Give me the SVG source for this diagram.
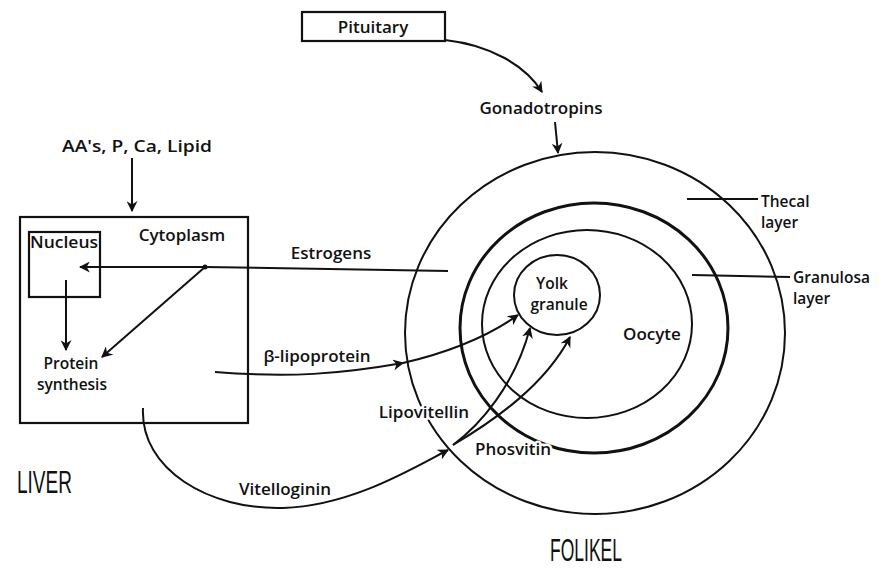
<svg xmlns="http://www.w3.org/2000/svg" width="881" height="569" viewBox="0 0 881 569">
<style>
  text { font-family: "Open Sans", "DejaVu Sans", sans-serif; font-weight: 600; font-size: 17px; fill: #111; }
  .two { font-size: 15.5px; }
  .halo { paint-order: stroke; stroke: #fff; stroke-width: 5px; stroke-linejoin: round; }
  .big { font-family: "Liberation Sans", sans-serif; font-weight: 400; font-size: 32px; }
  .box { fill: none; stroke: #111; stroke-width: 2.2; }
  .ring { fill: none; stroke: #111; stroke-width: 2; }
  .thick { stroke-width: 3; }
  .con { fill: none; stroke: #111; stroke-width: 2; }
</style>
<defs>
  <marker id="arr" viewBox="0 0 10 10" refX="9" refY="5" markerWidth="11" markerHeight="11" markerUnits="userSpaceOnUse" orient="auto">
    <path d="M0,0 L10,5 L0,10 L3,5 z" fill="#111"/>
  </marker>
</defs>
<rect width="881" height="569" fill="#fff"/>

<g id="follicle">
  <ellipse class="ring" cx="595" cy="333" rx="190" ry="181"/>
  <ellipse class="ring thick" cx="594" cy="328" rx="134" ry="125"/>
  <ellipse class="ring" cx="587" cy="324" rx="105" ry="94"/>
</g>

<g id="pituitary">
  <rect class="box" x="302" y="12" width="143" height="29"/>
  <text x="373" y="33" text-anchor="middle">Pituitary</text>
</g>

<g id="liver">
  <rect class="box" x="20" y="217" width="228" height="206"/>
  <text x="182" y="241" text-anchor="middle">Cytoplasm</text>
</g>
<g id="nucleus">
  <rect class="box" x="29" y="232" width="71" height="65"/>
  <text x="64" y="248" text-anchor="middle" font-size="15" textLength="68" lengthAdjust="spacingAndGlyphs">Nucleus</text>
</g>
<g id="protein-synthesis">
  <text class="two" x="71" y="369" text-anchor="middle">Protein</text>
  <text class="two" x="72" y="390" text-anchor="middle">synthesis</text>
</g>

<g id="connectors">
  <path class="con" d="M445,40 C490,45 525,65 542,92" marker-end="url(#arr)"/>
  <path class="con" d="M555,122 L558,153" marker-end="url(#arr)"/>
  <path class="con" d="M132,158 L132,211" marker-end="url(#arr)"/>
  <path class="con" d="M448,271 L205,267 L80,267" marker-end="url(#arr)"/>
  <circle cx="205" cy="267" r="2.5" fill="#111"/>
  <path class="con" d="M205,267 L102,357" marker-end="url(#arr)"/>
  <path class="con" d="M66,280 L66,350" marker-end="url(#arr)"/>
  <path class="con" d="M215,372 C290,378 340,374 403,363 C450,352 490,335 518,315" marker-mid="url(#arr)" marker-end="url(#arr)"/>
  <path class="con" d="M143,408 C140,470 210,510 283,508 C350,506 410,470 448,450" marker-end="url(#arr)"/>
  <path class="con" d="M453,445 C480,425 515,385 530,328" marker-end="url(#arr)"/>
  <path class="con" d="M453,445 C495,420 545,385 570,337" marker-end="url(#arr)"/>
  <path class="con" d="M687,199 L758,199"/>
  <path class="con" d="M692,275 L790,277"/>
</g>

<g id="yolk-granule">
  <ellipse class="ring" cx="557" cy="295" rx="43" ry="40" fill="#fff"/>
  <text class="two" x="552" y="289" text-anchor="middle">Yolk</text>
  <text class="two" x="559" y="310" text-anchor="middle">granule</text>
</g>

<g id="labels">
  <text x="137" y="152" text-anchor="middle" textLength="150" lengthAdjust="spacingAndGlyphs">AA's, P, Ca, Lipid</text>
  <text x="541" y="114" text-anchor="middle">Gonadotropins</text>
  <text x="331" y="259" text-anchor="middle">Estrogens</text>
  <text x="317" y="362" text-anchor="middle">β-lipoprotein</text>
  <text class="halo" x="424" y="418" text-anchor="middle">Lipovitellin</text>
  <text class="halo" x="513" y="455" text-anchor="middle">Phosvitin</text>
  <text x="285" y="495" text-anchor="middle">Vitelloginin</text>
  <text x="652" y="340" text-anchor="middle">Oocyte</text>
  <text class="two" x="761" y="207">Thecal</text>
  <text class="two" x="761" y="228">layer</text>
  <text class="two" x="793" y="283">Granulosa</text>
  <text class="two" x="793" y="304">layer</text>
  <text class="big" x="17" y="493" textLength="55" lengthAdjust="spacingAndGlyphs">LIVER</text>
  <text class="big" x="550" y="561" textLength="72" lengthAdjust="spacingAndGlyphs">FOLIKEL</text>
</g>
</svg>
